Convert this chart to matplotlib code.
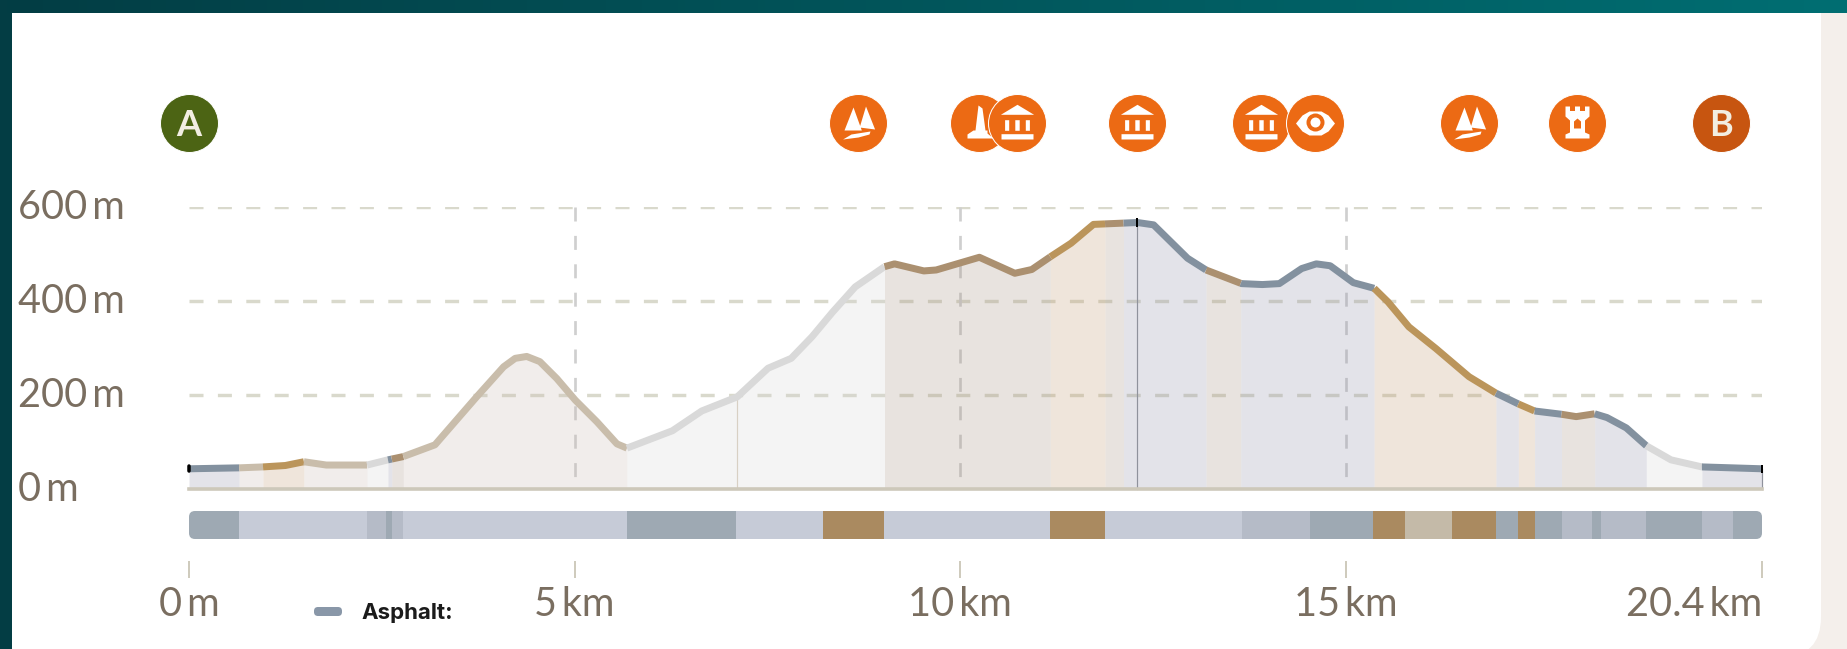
#!/usr/bin/env python3
import numpy as np
import matplotlib

matplotlib.use("Agg")
import matplotlib.pyplot as plt
from matplotlib.colors import LinearSegmentedColormap
from matplotlib.patches import FancyBboxPatch, Rectangle
from matplotlib.path import Path
from matplotlib.transforms import ScaledTranslation

# Elevation profile
distance_km = [
    0, 0.65, 0.96, 1.25, 1.49, 1.78, 2.31, 2.58, 2.78, 3.19, 3.73, 4.08, 4.23, 4.38, 4.55, 4.77,
    5.01, 5.29, 5.55, 5.68, 6.27, 6.65, 7.11, 7.51, 7.81, 8.08, 8.35, 8.64, 9.02, 9.15, 9.53,
    9.69, 10.25, 10.71, 10.93, 11.17, 11.44, 11.73, 12.30, 12.51, 12.95, 13.19, 13.65, 13.92,
    14.14, 14.43, 14.62, 14.80, 15.10, 15.37, 15.55, 15.82, 16.17, 16.60, 16.95, 17.24, 17.45,
    17.80, 17.99, 18.23, 18.39, 18.64, 18.90, 19.22, 19.62, 20.40,
]
elevation_m = [
    43, 45, 47, 50, 58, 51, 51, 62, 69, 94, 196, 260, 278, 282, 271, 235,
    189, 143, 96, 87, 124, 166, 196, 257, 278, 324, 377, 430, 473, 479, 464,
    466, 493, 459, 467, 494, 523, 563, 567, 562, 491, 466, 437, 435,
    437, 469, 479, 475, 439, 427, 398, 345, 299, 239, 204, 181, 166,
    159, 154, 160, 152, 130, 92, 62, 47, 43,
]

# Way type along the profile
way_edges = [
    0, 0.65, 0.96, 1.49, 2.31, 2.58, 2.63, 2.78, 5.68, 9.02, 11.17, 11.88, 12.12, 13.19,
    13.64, 15.37, 16.95, 17.24, 17.45, 17.80, 18.23, 18.90, 19.62, 20.40,
]
way_types = [
    "paved", "track", "gravel", "track", "other", "paved", "dirt", "track", "other", "dirt",
    "gravel", "dirt", "paved", "dirt", "paved", "gravel", "paved", "gravel", "paved", "dirt",
    "paved", "other", "paved",
]
point_marks_km = [7.11, 12.30, 20.40]

# Surface strip below the profile
surface_edges = [
    0, 0.65, 2.31, 2.56, 2.63, 2.78, 5.68, 7.10, 8.22, 9.01, 11.16, 11.88, 13.65, 14.54, 15.35,
    15.77, 16.38, 16.95, 17.24, 17.45, 17.80, 18.19, 18.31, 18.90, 19.62, 20.03, 20.40,
]
surface_types = [
    "dark", "light", "mid", "dark", "mid", "light", "dark", "light", "brown", "light", "brown",
    "light", "mid", "dark", "brown", "beige", "brown", "dark", "brown", "dark", "mid", "dark",
    "mid", "dark", "mid", "dark",
]

y_ticks = [0, 200, 400, 600]
y_labels = ["0\u2009m", "200\u2009m", "400\u2009m", "600\u2009m"]
x_ticks = [0, 5, 10, 15, 20.4]
x_labels = ["0\u2009m", "5\u2009km", "10\u2009km", "15\u2009km", "20.4\u2009km"]
x_grid = [5, 10, 15]

# Points of interest above the profile
poi_km = [0, 8.68, 10.24, 10.74, 12.30, 13.90, 14.60, 16.60, 18.00, 19.87]
poi_kinds = ["A", "peak", "monument", "museum", "museum", "museum", "eye", "peak", "castle", "B"]

LINE_COLORS = {
    "paved": "#83919f",
    "track": "#c9bdab",
    "gravel": "#bb955b",
    "dirt": "#ab9070",
    "other": "#d9d9d9",
}
FILL_COLORS = {
    "paved": "#9393ab",
    "track": "#cbbbb3",
    "gravel": "#c39b73",
    "dirt": "#a79383",
    "other": "#d4d4d4",
}
SURFACE_COLORS = {
    "dark": "#9ea9b3",
    "light": "#c6cbd7",
    "mid": "#b5bbc7",
    "brown": "#aa8a60",
    "beige": "#c4baa8",
}
TEXT = "#7a6e60"
ORANGE = "#ec6a14"
PX = 0.72  # points per pixel at dpi 100
W, H = 1847, 649
X0, X1 = 189, 1762
Y0, Y600 = 489, 207

plt.rcParams["font.family"] = ["Lato", "DejaVu Sans"]
plt.rcParams["lines.scale_dashes"] = False


def circle(dx, dy, r):
    c = Path.unit_circle()
    return Path(c.vertices * r + [dx, dy], c.codes)


def poly(*pts):
    return Path(list(pts) + [pts[0]], closed=True)


GLYPHS = {
    "museum": [
        poly((0, -18.7), (16.6, -8.7), (-16.6, -8.7)),
        poly((-12.4, -3.3), (-8.3, -3.3), (-8.3, 7.3), (-12.4, 7.3)),
        poly((-2.2, -3.3), (2.2, -3.3), (2.2, 7.3), (-2.2, 7.3)),
        poly((8.3, -3.3), (12.4, -3.3), (12.4, 7.3), (8.3, 7.3)),
        poly((-16, 10.7), (16, 10.7), (16, 16), (-16, 16)),
    ],
    "peak": [
        poly((-5, -16), (3.3, 7), (-14, 7)),
        poly((7.5, -17), (16.6, 6), (1.2, 4)),
        poly((-15.4, 16), (-7, 11), (12, 8), (11, 11), (0, 14)),
    ],
    "monument": [
        poly((-1, -18), (3, -15), (6, 7), (-4, 7)),
        poly((-6, 7), (8, 7), (8, 10), (14, 15), (-12, 15), (-12, 11)),
    ],
    "castle": [
        poly((-12, -17), (-7.5, -17), (-7.5, -12.5), (-2.5, -12.5), (-2.5, -17), (2.5, -17), (2.5, -12.5),
             (7.5, -12.5), (7.5, -17), (12, -17), (12, -7), (7.5, -3), (7.5, 9), (12, 11), (12, 15),
             (-12, 15), (-12, 11), (-7.5, 9), (-7.5, -3), (-12, -7)),
    ],
    "eye": [
        poly((-19.5, 0), (-13, -8), (-6, -12), (6, -12), (13, -8), (19.5, 0), (13, 8), (6, 12),
             (-6, 12), (-13, 8)),
    ],
}
# orange details on top of the white glyph, then white again
DETAILS = {
    "eye": [(circle(0, -1, 9), ORANGE), (circle(0, -1, 5), "white")],
    "castle": [(poly((-3.5, 5), (3.5, 5), (3.5, -2), (0, -5), (-3.5, -2)), ORANGE)],
}

fig = plt.figure(figsize=(W / 100, H / 100), dpi=100, facecolor="#f4efeb")

# Page background in pixel coordinates
bg = fig.add_axes([0, 0, 1, 1], zorder=0)
bg.set_xlim(0, W)
bg.set_ylim(H, 0)
bg.axis("off")
bg.add_patch(Rectangle((0, 0), 12, H, color="#033d44", lw=0))
bg.add_patch(FancyBboxPatch((12, 13), 1809, 644, boxstyle="round,pad=0,rounding_size=40", fc="white", ec="none"))
bg.add_patch(Rectangle((12, 13), 1809, 300, color="white", lw=0))
bg.add_patch(Rectangle((12, 13), 300, 636, color="white", lw=0))
band = LinearSegmentedColormap.from_list("band", ["#033d44", "#006e72"])
bg.imshow(np.linspace(0, 1, 256)[None, :], extent=(0, W, 13, 0), cmap=band, aspect="auto", zorder=3)
bg.set_xlim(0, W)
bg.set_ylim(H, 0)
bg.add_patch(FancyBboxPatch((314, 607), 28, 9, boxstyle="round,pad=0,rounding_size=4", fc="#8997a8", ec="none"))
bg.text(361, 613, "Asphalt:", fontsize=16, fontweight="bold", color="#1b1b1b", va="center",
        family=["Inter", "DejaVu Sans"])

# Elevation profile
ax = fig.add_axes([X0 / W, 1 - Y0 / H, (X1 - X0) / W, (Y0 - Y600) / H], zorder=2)
ax.patch.set_alpha(0)
ax.set_xlim(0, 20.4)
ax.set_ylim(0, 600)
for spine in ax.spines.values():
    spine.set_visible(False)

ax.set_axisbelow(True)
ax.yaxis.grid(True, color="#d9d9cc", lw=3.4 * PX, dashes=(14 * PX, 14.4 * PX))
ax.yaxis.set_ticks(y_ticks, y_labels)
ax.yaxis.get_gridlines()[0].set_visible(False)
ax.tick_params(axis="y", length=0, pad=(X0 - 18) * PX, labelsize=28.5, labelcolor=TEXT)
nudge_up = ScaledTranslation(0, 3 / 100, fig.dpi_scale_trans)
for label in ax.get_yticklabels():
    label.set_horizontalalignment("left")
    label.set_transform(label.get_transform() + nudge_up)
ax.set_xticks([])
for km in x_grid:
    ax.plot([km, km], [600, 23], color="#cfcfcf", lw=2.7 * PX, dashes=(14 * PX, 14.4 * PX), zorder=1)

xs = np.array(distance_km)
ys = np.array(elevation_m)
for i, way in enumerate(way_types):
    lo, hi = way_edges[i], way_edges[i + 1]
    inner = (xs > lo) & (xs < hi)
    seg_x = np.r_[lo, xs[inner], hi]
    seg_y = np.r_[np.interp(lo, xs, ys), ys[inner], np.interp(hi, xs, ys)]
    ax.fill_between(seg_x, 0, seg_y, color=FILL_COLORS[way], alpha=0.25, lw=0, zorder=2)
    ax.plot(seg_x, seg_y, color=LINE_COLORS[way], lw=7 * PX, solid_capstyle="butt",
            solid_joinstyle="round", clip_on=False, zorder=3)

ax.axhline(0, color="#cdc8ba", lw=3.6 * PX, zorder=4, clip_on=False)
for km in point_marks_km:
    top = np.interp(km, xs, ys)
    tone = "#d8d0c4" if km < 10 else "#8f929c"
    ax.plot([km, km], [0, top], color=tone, lw=1.2 * PX, zorder=2.5, clip_on=False)
    if km > 10:
        ax.plot([km, km], [top - 7, top + 7], color="black", lw=2 * PX, zorder=5, clip_on=False)
ax.plot([0, 0], [elevation_m[0] - 5, elevation_m[0] + 5], color="black", lw=3.5 * PX, solid_capstyle="round",
        zorder=5, clip_on=False)

# Points of interest, sized in pixels around their km position
poi_y = (Y0 - 122.7) / ((Y0 - Y600) / 600)
for km, kind in zip(poi_km, poi_kinds):
    face = {"A": "#4c6414", "B": "#c75510"}.get(kind, ORANGE)
    ax.plot([km], [poi_y], marker="o", ms=58 * PX, mfc=face, mec="white", mew=1 * PX, clip_on=False, zorder=6)
    if kind in ("A", "B"):
        ax.text(km, poi_y, kind, color="#f2eee2", fontsize=26, fontweight="bold", ha="center",
                va="center_baseline", zorder=7)
        continue
    glyph = Path.make_compound_path(*GLYPHS[kind])
    size = 2 * np.abs(glyph.vertices).max() * PX
    glyph = Path(glyph.vertices * [1, -1], glyph.codes)
    ax.plot([km], [poi_y], marker=glyph, ms=size, mfc="white", mew=0, clip_on=False, zorder=7)
    for shape, tone in DETAILS.get(kind, []):
        size = 2 * np.abs(shape.vertices).max() * PX
        shape = Path(shape.vertices * [1, -1], shape.codes)
        ax.plot([km], [poi_y], marker=shape, ms=size, mfc=tone, mew=0, clip_on=False, zorder=8)

# Surface strip and distance axis
strip = fig.add_axes([X0 / W, 1 - 539 / H, (X1 - X0) / W, 28 / H], zorder=1)
strip.patch.set_alpha(0)
strip.set_xlim(0, 20.4)
strip.set_ylim(0, 1)
strip.set_yticks([])
for name, spine in strip.spines.items():
    spine.set_visible(False)
strip.spines["bottom"].set_position(("outward", 22 * PX))
clip = FancyBboxPatch((X0, 511), X1 - X0, 28, boxstyle="round,pad=0,rounding_size=6", fc="none", ec="none")
bg.add_patch(clip)
for i, kind in enumerate(surface_types):
    lo, hi = surface_edges[i], surface_edges[i + 1]
    bars = strip.barh(0.5, hi - lo, left=lo, height=1, color=SURFACE_COLORS[kind], lw=0)
    bars[0].set_clip_path(clip)
strip.set_xticks(x_ticks, x_labels)
strip.tick_params(axis="x", length=17 * PX, width=2 * PX, color="#cfcbbd", pad=6, labelsize=28.5, labelcolor=TEXT)
strip.get_xticklabels()[-1].set_horizontalalignment("right")

fig.savefig("out.png", dpi=100, facecolor=fig.get_facecolor())
